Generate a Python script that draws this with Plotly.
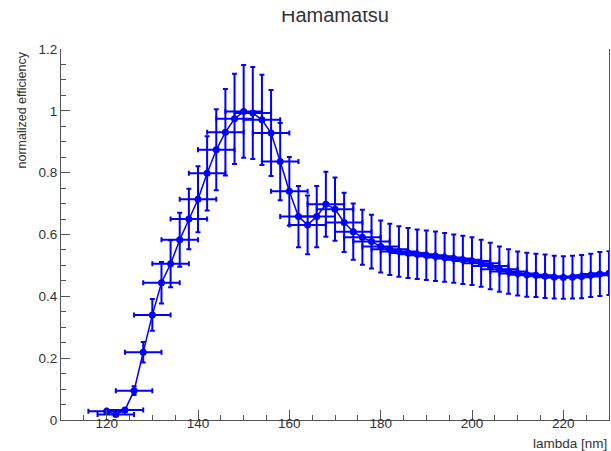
import plotly.graph_objects as go

wavelength = [120, 122, 124, 126, 128, 130, 132, 134, 136, 138, 140, 142, 144, 146,
              148, 150, 152, 154, 156, 158, 160, 162, 164, 166, 168, 170, 172, 174,
              176, 178, 180, 182, 184, 186, 188, 190, 192, 194, 196, 198, 200, 202,
              204, 206, 208, 210, 212, 214, 216, 218, 220, 222, 224, 226, 228, 230]
efficiency = [0.028, 0.018, 0.032, 0.095, 0.219, 0.340, 0.444, 0.505, 0.583, 0.650,
              0.714, 0.798, 0.874, 0.931, 0.974, 0.998, 0.993, 0.971, 0.928, 0.836,
              0.740, 0.658, 0.631, 0.658, 0.698, 0.682, 0.639, 0.609, 0.591, 0.577,
              0.561, 0.552, 0.545, 0.540, 0.536, 0.533, 0.530, 0.526, 0.522, 0.518,
              0.514, 0.507, 0.498, 0.488, 0.480, 0.474, 0.470, 0.468, 0.465, 0.462,
              0.461, 0.462, 0.464, 0.468, 0.472, 0.475]
eff_err = [0.005, 0.004, 0.005, 0.014, 0.033, 0.051, 0.067, 0.076, 0.087, 0.098,
           0.107, 0.120, 0.131, 0.140, 0.146, 0.150, 0.149, 0.146, 0.139, 0.125,
           0.111, 0.099, 0.095, 0.099, 0.105, 0.102, 0.096, 0.091, 0.089, 0.087,
           0.084, 0.083, 0.082, 0.081, 0.080, 0.080, 0.080, 0.079, 0.078, 0.078,
           0.077, 0.076, 0.075, 0.073, 0.072, 0.071, 0.071, 0.070, 0.070, 0.069,
           0.069, 0.069, 0.070, 0.070, 0.071, 0.071]
wl_err = [4] * len(wavelength)

title_text = "Hamamatsu"
x_title = "lambda [nm]"
y_title = "normalized efficiency"

BLUE = "#0000ff"
AXC = "#555555"
FONT = "Liberation Sans, Arial, Helvetica, sans-serif"

fig = go.Figure()
fig.add_trace(go.Scatter(
    x=wavelength, y=efficiency,
    mode="lines+markers",
    line=dict(color=BLUE, width=1.5),
    marker=dict(color=BLUE, size=7, symbol="circle"),
    error_y=dict(type="data", array=eff_err, visible=True, color=BLUE, thickness=2, width=2.5),
    error_x=dict(type="data", array=wl_err, visible=True, color=BLUE, thickness=2, width=2.5),
    showlegend=False,
))

fig.update_layout(
    width=611, height=451,
    margin=dict(l=61, r=2, t=49, b=31),
    paper_bgcolor="white", plot_bgcolor="white",
    font=dict(family=FONT, size=13.5, color="#333333"),
    xaxis=dict(
        range=[110, 230], tick0=0, dtick=20,
        ticks="inside", ticklen=10, tickwidth=1, tickcolor=AXC,
        minor=dict(dtick=5, ticks="inside", ticklen=5, tickcolor=AXC, tickwidth=1),
        showline=True, linecolor=AXC, linewidth=1,
        showgrid=False, zeroline=False, ticklabelstandoff=-9,
        tickfont=dict(size=13.5, color="#333333"),
    ),
    yaxis=dict(
        range=[0, 1.2], tick0=0, dtick=0.2,
        ticks="inside", ticklen=9, tickwidth=1, tickcolor=AXC,
        minor=dict(dtick=0.05, ticks="inside", ticklen=5, tickcolor=AXC, tickwidth=1),
        showline=True, linecolor=AXC, linewidth=1, mirror=True,
        showgrid=False, zeroline=False,
        tickfont=dict(size=13.5, color="#333333"),
    ),
    annotations=[
        dict(text=title_text, xref="paper", yref="paper", x=0.5, y=1 + (49 - 15) / 370,
             xanchor="center", yanchor="middle", showarrow=False,
             font=dict(family=FONT, size=20, color="#333333")),
        dict(text="&nbsp;", xref="paper", yref="paper", x=0.5, y=1 + 49 / 370,
             xanchor="center", yanchor="top", showarrow=False, width=220, height=11,
             bgcolor="#ffffff", borderpad=0, borderwidth=0, font=dict(size=6)),
        dict(text=y_title, xref="paper", yref="paper", x=(22 - 61) / 548, y=1 + (49 - 50) / 370,
             xanchor="center", yanchor="top", textangle=-90, showarrow=False,
             font=dict(family=FONT, size=12.5, color="#333333")),
        dict(text=x_title, xref="paper", yref="paper", x=1.0, y=(420 - 443) / 370,
             xanchor="right", yanchor="middle", showarrow=False,
             font=dict(family=FONT, size=13.5, color="#333333")),
    ],
)

fig.write_html("out.html")
